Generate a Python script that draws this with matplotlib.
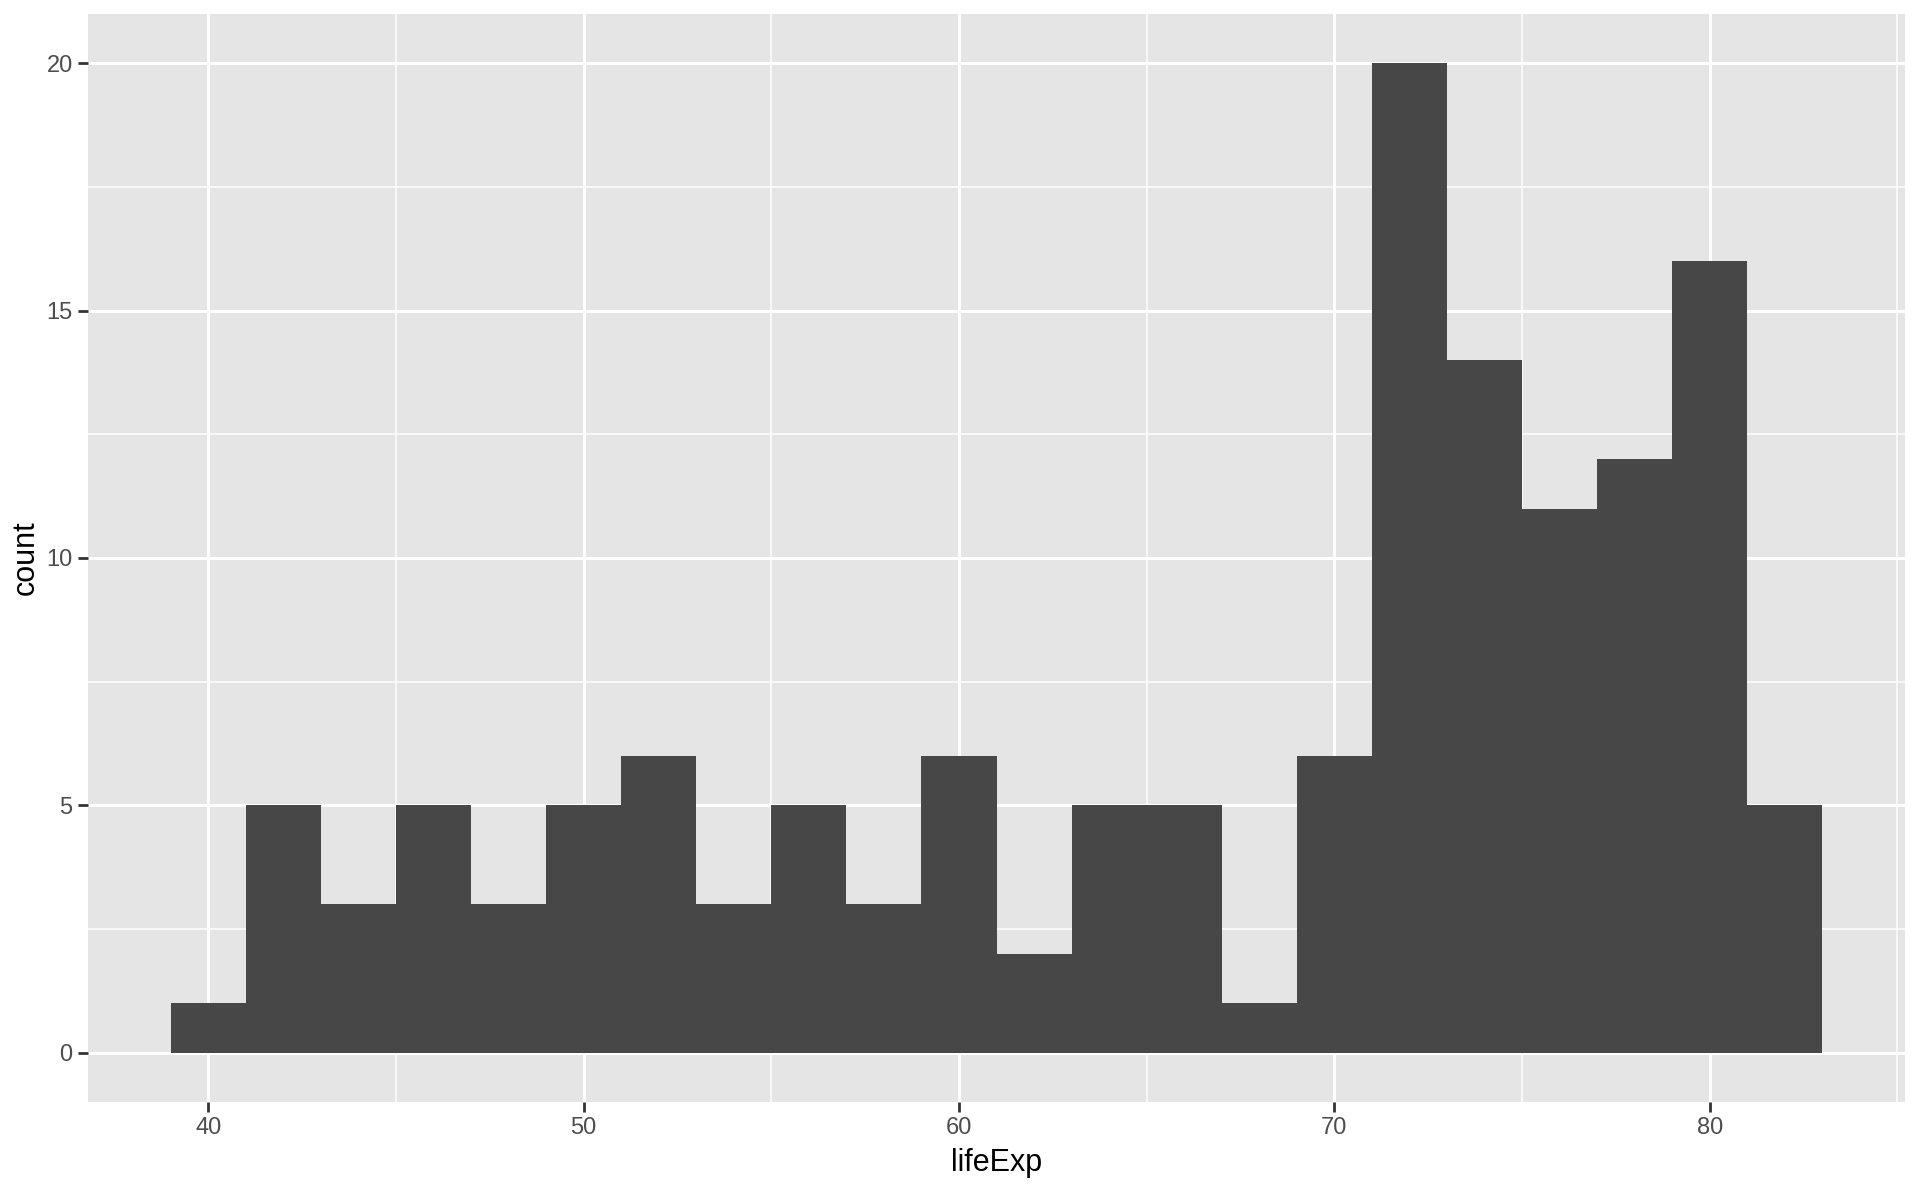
import matplotlib
matplotlib.use("Agg")
import matplotlib.pyplot as plt
import numpy as np

bin_edges = [39, 41, 43, 45, 47, 49, 51, 53, 55, 57, 59, 61, 63, 65, 67, 69, 71, 73, 75, 77, 79, 81, 83]
counts = [1, 5, 3, 5, 3, 5, 6, 3, 5, 3, 6, 2, 5, 5, 1, 6, 20, 14, 11, 12, 16, 5]
x_ticks = [40, 50, 60, 70, 80]
y_ticks = [0, 5, 10, 15, 20]
x_label = "lifeExp"
y_label = "count"

plt.rcParams['font.family'] = ['Liberation Sans', 'DejaVu Sans']

fig = plt.figure(figsize=(19.2, 11.86), dpi=100)
ax = fig.add_axes([88/1920, 1 - 1102/1186, (1905-88)/1920, (1102-14)/1186])
ax.set_facecolor('#E5E5E5')
for s in ax.spines.values():
    s.set_visible(False)

edges = np.array(bin_edges, dtype=float)
ax.bar(edges[:-1], counts, width=np.diff(edges), align='edge', color='#474747', linewidth=0, zorder=3)

xr = edges[-1] - edges[0]
ax.set_xlim(edges[0] - 0.05*xr, edges[-1] + 0.05*xr)
ymax = max(counts)
ax.set_ylim(-0.05*ymax, ymax*1.05)

ax.set_xticks(x_ticks)
ax.set_yticks(y_ticks)
ax.set_xticks([45, 55, 65, 75, 85], minor=True)
ax.set_yticks([2.5, 7.5, 12.5, 17.5], minor=True)
ax.grid(which='major', color='white', linewidth=2.2, zorder=1)
ax.grid(which='minor', color='white', linewidth=1.1, zorder=1)
ax.set_axisbelow(True)
ax.tick_params(which='major', length=7, width=2, color='#333333', labelcolor='#4D4D4D', labelsize=17, pad=4)
ax.tick_params(which='minor', length=0)

ax.set_xlabel(x_label, fontsize=22, color='black', labelpad=6)
ax.set_ylabel(y_label, fontsize=22, color='black', labelpad=4)

fig.savefig('out.png', dpi=100, facecolor='white')
